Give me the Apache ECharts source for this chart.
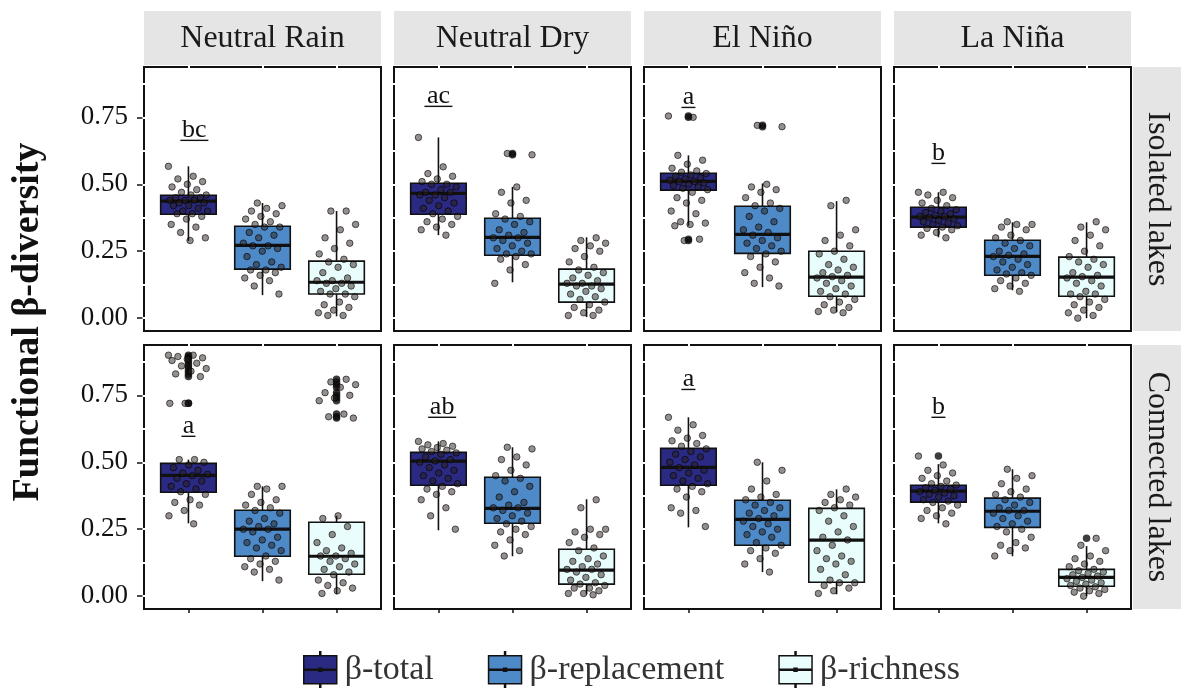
<!DOCTYPE html>
<html>
<head>
<meta charset="utf-8">
<script src="https://cdn.jsdelivr.net/npm/echarts@6/dist/echarts.min.js"></script>
<style>
  html, body { margin: 0; padding: 0; background: #fff; }
  #chart { width: 1183px; height: 688px; }
</style>
</head>
<body>
<div id="chart"></div>
<script>
// facets
var events = ['Neutral Rain', 'Neutral Dry', 'El Niño', 'La Niña'];
var lakes = ['Isolated lakes', 'Connected lakes'];
var components = ['β-total', 'β-replacement', 'β-richness'];
var yTicks = [0, 0.25, 0.5, 0.75];

// group letters (row = lakes, col = events), y = underline level
var letters = [['bc', 'ac', 'a', 'b'], ['a', 'ab', 'a', 'b']];
var letterX = [[1.08, 1, 1, 1], [1, 1.05, 1, 1]];
var letterY = [[0.664, 0.791, 0.787, 0.578], [0.597, 0.668, 0.772, 0.668]];

// box stats [lower whisker, Q1, median, Q3, upper whisker] per component
var statsIsoRain = [[0.288, 0.388, 0.437, 0.459, 0.567], [0.086, 0.183, 0.272, 0.343, 0.43], [0.007, 0.09, 0.134, 0.213, 0.40]];
var statsIsoDry = [[0.31, 0.388, 0.466, 0.504, 0.675], [0.134, 0.235, 0.302, 0.373, 0.49], [0.004, 0.06, 0.127, 0.183, 0.302]];
var statsIsoNino = [[0.345, 0.478, 0.511, 0.541, 0.608], [0.116, 0.242, 0.313, 0.418, 0.503], [0.022, 0.082, 0.153, 0.25, 0.437]];
var statsIsoNina = [[0.302, 0.34, 0.377, 0.414, 0.47], [0.104, 0.16, 0.231, 0.291, 0.358], [0, 0.082, 0.153, 0.228, 0.358]];
var statsConRain = [[0.272, 0.388, 0.451, 0.496, 0.51], [0.056, 0.149, 0.25, 0.321, 0.41], [0.007, 0.082, 0.149, 0.276, 0.30]];
var statsConDry = [[0.246, 0.414, 0.504, 0.537, 0.578], [0.149, 0.272, 0.328, 0.444, 0.556], [0.007, 0.045, 0.097, 0.175, 0.362]];
var statsConNino = [[0.257, 0.414, 0.481, 0.552, 0.668], [0.09, 0.19, 0.287, 0.358, 0.50], [0.007, 0.052, 0.209, 0.328, 0.399]];
var statsConNina = [[0.272, 0.351, 0.392, 0.414, 0.493], [0.149, 0.257, 0.317, 0.366, 0.474], [0, 0.037, 0.07, 0.10, 0.187]];

// outliers (drawn black by the boxplot)
var outIsoRain = [[], [], []];
var outIsoDry = [[], [0.615, 0.61], []];
var outIsoNino = [[0.755, 0.75, 0.295, 0.29], [0.72, 0.715], []];
var outIsoNina = [[], [], []];
var outConRain = [[0.90, 0.895, 0.89, 0.88, 0.87, 0.86, 0.85, 0.84, 0.83, 0.82, 0.72, 0.72], [], [0.81, 0.80, 0.79, 0.78, 0.76, 0.75, 0.74, 0.73, 0.68, 0.67, 0.665]];
var outConDry = [[], [], []];
var outConNino = [[], [], []];
var outConNina = [[0.523], [], [0.216]];

// all lake values (jittered points)
var ptsIsoRain = [
  [0.567, 0.53, 0.52, 0.51, 0.50, 0.49, 0.48, 0.47, 0.46, 0.46, 0.45, 0.45, 0.44, 0.44, 0.44, 0.43, 0.43, 0.42, 0.42, 0.41, 0.40, 0.40, 0.39, 0.39, 0.38, 0.37, 0.35, 0.34, 0.32, 0.30, 0.29],
  [0.43, 0.42, 0.41, 0.40, 0.39, 0.38, 0.37, 0.36, 0.35, 0.34, 0.34, 0.32, 0.31, 0.30, 0.28, 0.27, 0.27, 0.26, 0.25, 0.23, 0.21, 0.20, 0.19, 0.18, 0.18, 0.17, 0.16, 0.15, 0.14, 0.12, 0.09],
  [0.40, 0.40, 0.35, 0.33, 0.30, 0.28, 0.26, 0.24, 0.22, 0.21, 0.20, 0.19, 0.17, 0.15, 0.14, 0.14, 0.13, 0.13, 0.12, 0.11, 0.10, 0.09, 0.09, 0.08, 0.06, 0.05, 0.04, 0.03, 0.02, 0.01, 0.01]
];
var ptsIsoDry = [
  [0.675, 0.565, 0.54, 0.53, 0.52, 0.51, 0.50, 0.50, 0.49, 0.48, 0.47, 0.47, 0.46, 0.46, 0.45, 0.44, 0.43, 0.42, 0.41, 0.40, 0.39, 0.38, 0.37, 0.36, 0.35, 0.34, 0.33, 0.31],
  [0.615, 0.61, 0.49, 0.47, 0.44, 0.43, 0.39, 0.38, 0.37, 0.36, 0.35, 0.33, 0.32, 0.31, 0.30, 0.30, 0.29, 0.28, 0.27, 0.26, 0.25, 0.24, 0.24, 0.23, 0.22, 0.20, 0.18, 0.13],
  [0.30, 0.29, 0.28, 0.27, 0.26, 0.25, 0.23, 0.21, 0.19, 0.18, 0.17, 0.16, 0.15, 0.14, 0.13, 0.13, 0.12, 0.12, 0.11, 0.10, 0.09, 0.08, 0.07, 0.06, 0.05, 0.04, 0.03, 0.02, 0.01, 0.01]
];
var ptsIsoNino = [
  [0.755, 0.75, 0.608, 0.59, 0.575, 0.56, 0.55, 0.545, 0.54, 0.535, 0.53, 0.525, 0.52, 0.515, 0.51, 0.51, 0.505, 0.50, 0.495, 0.49, 0.485, 0.48, 0.47, 0.45, 0.44, 0.43, 0.40, 0.39, 0.36, 0.355, 0.35, 0.345, 0.295, 0.29],
  [0.72, 0.715, 0.50, 0.49, 0.48, 0.47, 0.45, 0.43, 0.42, 0.41, 0.40, 0.38, 0.36, 0.34, 0.33, 0.32, 0.31, 0.30, 0.29, 0.28, 0.27, 0.26, 0.25, 0.24, 0.23, 0.21, 0.19, 0.17, 0.15, 0.13, 0.12],
  [0.44, 0.42, 0.33, 0.31, 0.29, 0.27, 0.25, 0.24, 0.22, 0.20, 0.19, 0.18, 0.17, 0.16, 0.155, 0.15, 0.14, 0.13, 0.12, 0.11, 0.10, 0.09, 0.08, 0.07, 0.06, 0.05, 0.04, 0.03, 0.025, 0.02]
];
var ptsIsoNina = [
  [0.47, 0.47, 0.46, 0.45, 0.44, 0.43, 0.42, 0.41, 0.405, 0.40, 0.395, 0.39, 0.385, 0.38, 0.38, 0.375, 0.37, 0.365, 0.36, 0.355, 0.35, 0.345, 0.34, 0.335, 0.33, 0.32, 0.31, 0.30],
  [0.36, 0.35, 0.35, 0.34, 0.33, 0.31, 0.30, 0.29, 0.28, 0.27, 0.26, 0.25, 0.24, 0.235, 0.23, 0.22, 0.21, 0.20, 0.19, 0.18, 0.17, 0.165, 0.16, 0.15, 0.14, 0.13, 0.12, 0.11, 0.10],
  [0.36, 0.34, 0.33, 0.31, 0.29, 0.27, 0.25, 0.23, 0.22, 0.21, 0.20, 0.19, 0.17, 0.16, 0.155, 0.15, 0.14, 0.13, 0.12, 0.10, 0.09, 0.09, 0.08, 0.07, 0.06, 0.05, 0.04, 0.03, 0.02, 0.01, 0.0]
];
var ptsConRain = [
  [0.90, 0.90, 0.895, 0.89, 0.885, 0.88, 0.87, 0.86, 0.85, 0.84, 0.83, 0.82, 0.72, 0.72, 0.51, 0.51, 0.50, 0.49, 0.48, 0.47, 0.46, 0.455, 0.45, 0.44, 0.43, 0.42, 0.41, 0.40, 0.39, 0.38, 0.36, 0.35, 0.34, 0.32, 0.30, 0.27],
  [0.41, 0.41, 0.40, 0.38, 0.36, 0.35, 0.34, 0.33, 0.32, 0.31, 0.29, 0.28, 0.27, 0.26, 0.25, 0.25, 0.24, 0.22, 0.21, 0.20, 0.19, 0.18, 0.17, 0.15, 0.14, 0.13, 0.12, 0.11, 0.10, 0.09, 0.06],
  [0.81, 0.80, 0.79, 0.78, 0.76, 0.75, 0.74, 0.73, 0.68, 0.67, 0.665, 0.30, 0.29, 0.26, 0.23, 0.20, 0.18, 0.17, 0.16, 0.15, 0.15, 0.14, 0.13, 0.12, 0.11, 0.10, 0.09, 0.08, 0.06, 0.05, 0.04, 0.03, 0.02, 0.01]
];
var ptsConDry = [
  [0.578, 0.57, 0.565, 0.56, 0.555, 0.55, 0.545, 0.54, 0.535, 0.53, 0.52, 0.51, 0.505, 0.50, 0.49, 0.48, 0.47, 0.46, 0.45, 0.44, 0.43, 0.42, 0.41, 0.40, 0.39, 0.38, 0.36, 0.33, 0.30, 0.25],
  [0.556, 0.55, 0.52, 0.51, 0.49, 0.47, 0.45, 0.44, 0.43, 0.41, 0.39, 0.37, 0.35, 0.34, 0.33, 0.33, 0.32, 0.31, 0.30, 0.29, 0.28, 0.27, 0.26, 0.25, 0.24, 0.23, 0.21, 0.19, 0.17, 0.15],
  [0.36, 0.33, 0.25, 0.25, 0.24, 0.23, 0.22, 0.20, 0.18, 0.17, 0.15, 0.14, 0.13, 0.12, 0.11, 0.10, 0.10, 0.09, 0.08, 0.07, 0.06, 0.05, 0.045, 0.04, 0.03, 0.03, 0.02, 0.01, 0.01, 0.005]
];
var ptsConNino = [
  [0.668, 0.64, 0.62, 0.60, 0.59, 0.58, 0.57, 0.56, 0.55, 0.54, 0.53, 0.52, 0.51, 0.50, 0.49, 0.48, 0.47, 0.46, 0.45, 0.44, 0.43, 0.42, 0.41, 0.40, 0.39, 0.37, 0.33, 0.32, 0.31, 0.26],
  [0.50, 0.47, 0.43, 0.40, 0.38, 0.37, 0.36, 0.35, 0.34, 0.33, 0.32, 0.31, 0.30, 0.29, 0.28, 0.27, 0.26, 0.25, 0.24, 0.23, 0.22, 0.20, 0.19, 0.18, 0.17, 0.16, 0.14, 0.12, 0.09],
  [0.40, 0.38, 0.37, 0.36, 0.35, 0.34, 0.33, 0.32, 0.30, 0.28, 0.26, 0.24, 0.22, 0.21, 0.19, 0.17, 0.15, 0.14, 0.13, 0.12, 0.10, 0.08, 0.06, 0.05, 0.05, 0.04, 0.03, 0.02, 0.01]
];
var ptsConNina = [
  [0.523, 0.49, 0.47, 0.46, 0.45, 0.44, 0.43, 0.42, 0.415, 0.41, 0.405, 0.40, 0.395, 0.39, 0.385, 0.38, 0.375, 0.37, 0.36, 0.355, 0.35, 0.34, 0.33, 0.32, 0.31, 0.30, 0.29, 0.27],
  [0.474, 0.45, 0.44, 0.42, 0.40, 0.39, 0.38, 0.37, 0.36, 0.35, 0.34, 0.33, 0.32, 0.32, 0.31, 0.30, 0.29, 0.28, 0.27, 0.26, 0.25, 0.24, 0.22, 0.20, 0.19, 0.18, 0.17, 0.15],
  [0.216, 0.19, 0.17, 0.15, 0.14, 0.13, 0.12, 0.11, 0.10, 0.095, 0.09, 0.085, 0.08, 0.075, 0.07, 0.065, 0.06, 0.055, 0.05, 0.045, 0.04, 0.035, 0.03, 0.025, 0.02, 0.015, 0.01, 0.0]
];

var panelStats = [[statsIsoRain, statsIsoDry, statsIsoNino, statsIsoNina], [statsConRain, statsConDry, statsConNino, statsConNina]];
var panelOut = [[outIsoRain, outIsoDry, outIsoNino, outIsoNina], [outConRain, outConDry, outConNino, outConNina]];
var panelPts = [[ptsIsoRain, ptsIsoDry, ptsIsoNino, ptsIsoNina], [ptsConRain, ptsConDry, ptsConNino, ptsConNina]];

var boxColors = ['#2b2a83', '#4e89c8', '#e9fdfd'];
var FONT = '"Liberation Serif", "Times New Roman", serif';
var Y_MIN = -0.048, Y_MAX = 0.938;

var PANEL_LEFT = 144, PANEL_W = 237, PANEL_GAP = 13;
var PANEL_TOP = 67, PANEL_H = 264, ROW_STEP = 278;

// spread points sideways like geom_jitter (deterministic)
function jitter(i, k) {
  return (((i * 0.618034 + k * 0.37) % 1) - 0.5) * 0.54;
}

function renderBox(params, api) {
  var x = api.value(0);
  var lo = api.coord([x, api.value(1)]);
  var q1 = api.coord([x, api.value(2)]);
  var md = api.coord([x, api.value(3)]);
  var q3 = api.coord([x, api.value(4)]);
  var hi = api.coord([x, api.value(5)]);
  var hw = api.size([0.75, 0])[0] / 2;
  var ln = { stroke: '#111', lineWidth: 1.6 };
  return {
    type: 'group',
    children: [
      { type: 'line', shape: { x1: lo[0], y1: lo[1], x2: q1[0], y2: q1[1] }, style: ln },
      { type: 'line', shape: { x1: q3[0], y1: q3[1], x2: hi[0], y2: hi[1] }, style: ln },
      { type: 'rect', shape: { x: q3[0] - hw, y: q3[1], width: hw * 2, height: q1[1] - q3[1] },
        style: { fill: api.visual('color'), stroke: '#111', lineWidth: 1.6 } },
      { type: 'line', shape: { x1: md[0] - hw, y1: md[1], x2: md[0] + hw, y2: md[1] },
        style: { stroke: '#111', lineWidth: 3.2 } }
    ]
  };
}

// underlined group letter; data y is the underline level
function letterRenderer(txt) {
  return function (params, api) {
    var p = api.coord([api.value(0), api.value(1)]);
    var w = txt.length * 14;
    return {
      type: 'group',
      children: [
        { type: 'text', x: p[0], y: p[1] + 3,
          style: { text: txt, fontFamily: FONT, fontSize: 26, fill: '#111', textAlign: 'center', textVerticalAlign: 'bottom' } },
        { type: 'line', shape: { x1: p[0] - w / 2, y1: p[1], x2: p[0] + w / 2, y2: p[1] },
          style: { stroke: '#111', lineWidth: 1.4 } }
      ]
    };
  };
}

var grids = [], xAxes = [], yAxes = [], series = [], graphics = [];
var gapTicks = [0, 0.125, 0.25, 0.375, 0.5, 0.625, 0.75, 0.875];

for (var r = 0; r < 2; r++) {
  for (var c = 0; c < 4; c++) {
    var g = r * 4 + c;
    grids.push({
      left: PANEL_LEFT + c * (PANEL_W + PANEL_GAP),
      top: PANEL_TOP + r * ROW_STEP,
      width: PANEL_W,
      height: PANEL_H,
      show: true,
      backgroundColor: '#fff',
      borderColor: '#111',
      borderWidth: 2
    });
    xAxes.push({
      gridIndex: g, type: 'value', min: 0.4, max: 3.6, position: 'bottom',
      axisLine: { show: false, onZero: false }, splitLine: { show: false }, axisLabel: { show: false },
      axisTick: { show: r === 1, customValues: [1, 2, 3], length: 4, lineStyle: { color: '#111', width: 1.5 } }
    });
    xAxes.push({
      gridIndex: g, type: 'value', min: 0.4, max: 3.6, position: 'top', offset: 1.5, z: 10,
      axisLine: { show: false, onZero: false }, splitLine: { show: false }, axisLabel: { show: false },
      axisTick: { show: true, inside: true, customValues: [1, 2, 3], length: 3, lineStyle: { color: '#fff', width: 2 } }
    });
    yAxes.push({
      gridIndex: g, type: 'value', min: Y_MIN, max: Y_MAX, position: 'left',
      axisLine: { show: false, onZero: false }, splitLine: { show: false },
      axisTick: { show: c === 0, customValues: yTicks, length: 7, lineStyle: { color: '#111', width: 1.5 } },
      axisLabel: {
        show: c === 0, customValues: yTicks, margin: 16,
        formatter: function (v) { return v.toFixed(2); },
        fontFamily: FONT, fontSize: 27, color: '#111'
      }
    });
    yAxes.push({
      gridIndex: g, type: 'value', min: Y_MIN, max: Y_MAX, position: 'left', offset: 1.5, z: 10,
      axisLine: { show: false, onZero: false }, splitLine: { show: false }, axisLabel: { show: false },
      axisTick: { show: true, inside: true, customValues: gapTicks, length: 3, lineStyle: { color: '#fff', width: 2 } }
    });

    var stats = panelStats[r][c];
    var outs = panelOut[r][c];
    var pts = panelPts[r][c];

    for (var k = 0; k < 3; k++) {
      series.push({
        type: 'custom',
        name: components[k],
        xAxisIndex: g * 2, yAxisIndex: g * 2,
        renderItem: renderBox,
        itemStyle: { color: boxColors[k] },
        encode: { x: 0, y: [1, 2, 3, 4, 5] },
        data: [[k + 1].concat(stats[k])],
        silent: true,
        z: 2
      });
    }

    var outData = [];
    outs.forEach(function (vals, k) {
      vals.forEach(function (v) { outData.push([k + 1, v]); });
    });
    series.push({
      type: 'scatter', name: 'outliers',
      xAxisIndex: g * 2, yAxisIndex: g * 2,
      symbolSize: 7.5, itemStyle: { color: '#0c0c0c' },
      data: outData, silent: true, z: 3
    });

    var ptData = [];
    pts.forEach(function (vals, k) {
      vals.forEach(function (v, i) { ptData.push([k + 1 + jitter(i, k), v]); });
    });
    series.push({
      type: 'scatter', name: 'points',
      xAxisIndex: g * 2, yAxisIndex: g * 2,
      symbolSize: 6.5,
      itemStyle: { color: 'rgba(40,30,25,0.62)', borderColor: 'rgba(0,0,0,0.75)', borderWidth: 1 },
      data: ptData, silent: true, z: 4
    });

    series.push({
      type: 'custom', name: 'letters',
      xAxisIndex: g * 2, yAxisIndex: g * 2,
      renderItem: letterRenderer(letters[r][c]),
      encode: { x: 0, y: 1 },
      data: [[letterX[r][c], letterY[r][c]]],
      silent: true, z: 5
    });
  }
}

// facet strips
events.forEach(function (name, c) {
  var x0 = PANEL_LEFT + c * (PANEL_W + PANEL_GAP);
  graphics.push({ type: 'rect', shape: { x: x0, y: 11, width: PANEL_W, height: 54 }, style: { fill: '#e6e5e5' }, silent: true });
  graphics.push({ type: 'text', x: x0 + PANEL_W / 2, y: 39,
    style: { text: name, fontFamily: FONT, fontSize: 32, fill: '#1a1a1a', textAlign: 'center', textVerticalAlign: 'middle' }, silent: true });
});
lakes.forEach(function (name, r) {
  var y0 = PANEL_TOP + r * ROW_STEP;
  graphics.push({ type: 'rect', shape: { x: 1133, y: y0, width: 48, height: PANEL_H }, style: { fill: '#e6e5e5' }, silent: true });
  graphics.push({ type: 'text', x: 1157, y: y0 + PANEL_H / 2, rotation: -Math.PI / 2,
    style: { text: name, fontFamily: FONT, fontSize: 32, fill: '#1a1a1a', textAlign: 'center', textVerticalAlign: 'middle' }, silent: true });
});
graphics.push({ type: 'text', x: 28, y: 322, rotation: Math.PI / 2,
  style: { text: 'Functional β-diversity', fontFamily: FONT, fontSize: 38, fontWeight: 'bold', fill: '#111', textAlign: 'center', textVerticalAlign: 'middle' }, silent: true });

var legendIcon = 'path://M0,4H33V32H0Z M0,17.5H33V18.5H0Z M16,0H17V4H16Z M16,32H17V36H16Z M15,16.5H18V19.5H15Z';

var chart = echarts.init(document.getElementById('chart'), null, { renderer: 'canvas' });
chart.setOption({
  backgroundColor: '#fff',
  animation: false,
  grid: grids,
  xAxis: xAxes,
  yAxis: yAxes,
  legend: {
    left: 298, top: 646,
    itemWidth: 33, itemHeight: 36, itemGap: 54,
    icon: legendIcon,
    selectedMode: false,
    textStyle: { fontFamily: FONT, fontSize: 34, color: '#333', padding: [0, 0, 0, 3] },
    data: components.map(function (n, k) {
      return { name: n, itemStyle: { color: boxColors[k], borderColor: '#111', borderWidth: 1.5 } };
    })
  },
  graphic: graphics,
  series: series
});
</script>
</body>
</html>
